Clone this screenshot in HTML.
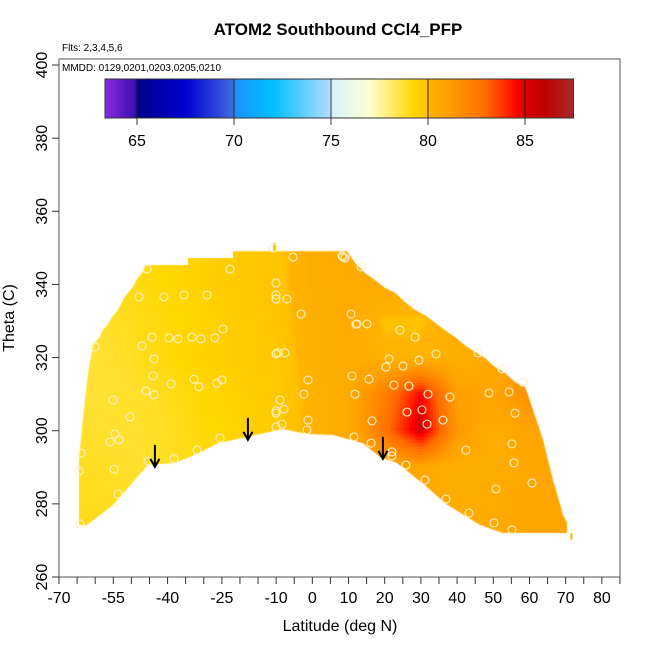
<!DOCTYPE html>
<html><head><meta charset="utf-8">
<style>
html,body{margin:0;padding:0;background:#fff;}
#wrap{position:relative;width:650px;height:650px;font-family:"Liberation Sans",sans-serif;}
canvas,svg{position:absolute;left:0;top:0;}
</style></head>
<body>
<div id="wrap">
<canvas id="cv" width="650" height="650"></canvas>
<svg id="sv" width="650" height="650"></svg>
</div>
<script>
// ---- data ----
const lats = [-70,-60,-50,-40,-30,-20,-10,0,10,20,30,40,50,60,70];
const thetas = [270,280,290,300,310,320,330,340,350];
const v270 = [79,79,78.9,79,79.2,79.4,79.7,80.1,80.4,80.5,80.5,80.4,80.5,80.7,80.7];
const v280 = [79,79,78.9,79,79.2,79.4,79.7,80.1,80.4,80.5,80.5,80.4,80.5,80.7,80.7];
const v290 = [79,78.9,78.8,78.9,79.2,79.4,79.7,80.1,80.3,80.5,80.7,80.3,80.3,80.6,80.7];
const v300 = [78.9,78.8,78.8,78.9,79.2,79.4,79.7,80.1,80.4,82.6,85.3,81.2,80.4,80.8,80.8];
const v310 = [78.8,78.7,78.8,79,79.3,79.5,79.7,80.1,80.4,82.2,84.6,81,80.8,81.6,80.9];
const v320 = [78.7,78.7,78.9,79.2,79.5,79.6,79.7,80.2,80.5,80.1,80.1,80.3,80.5,80.8,80.7];
const v330 = [78.8,78.8,79,79.2,79.4,79.6,79.8,80.2,80.5,79.9,79.9,80.3,80.5,80.7,80.7];
const v340 = [78.9,78.9,79.1,79.3,79.5,79.7,79.8,80.3,80.5,80.5,80.4,80.5,80.7,80.7,80.7];
const v350 = [79,79,79,79.3,79.5,79.6,79.8,80.3,80.5,80.6,80.6,80.6,80.7,80.7,80.7];
const gridRows = [v270,v280,v290,v300,v310,v320,v330,v340,v350];
// region boundary (lat, theta)
const bndLat = [-64.47,-64.47,-63.37,-61.99,-60.6,-58.95,-57.84,-56.46,-55.08,-53.7,-52.32,-50.94,-49.56,-48.45,-47.07,-45.96,-34.35,-34.35,-21.92,-21.92,-10.87,-10.87,-10.04,-10.04,9.58,11.79,14.55,17.32,20.08,22.84,25.61,28.37,31.13,33.9,36.66,39.42,42.18,44.95,47.71,50.47,53.24,56.0,58.76,59.59,60.97,62.36,63.74,65.12,66.5,67.88,69.26,70.37,70.37,52.68,46.33,42.74,36.66,31.69,26.99,23.4,18.7,14.0,5.71,-1.47,-8.1,-14.46,-26.07,-31.87,-37.95,-45.41,-55.08,-62.26];
const bndTh = [274.2,292.5,303.5,315.8,323.4,325.4,327.6,329.2,331.4,333.0,335.8,337.7,339.3,341.5,343.1,345.3,345.3,347.2,347.2,349.1,349.1,351.3,351.3,349.1,349.1,345.9,343.1,341.2,339.0,337.7,335.2,333.0,331.6,329.5,327.5,325.6,323.4,321.5,319.9,317.4,315.8,313.3,312.0,309.8,305.7,301.6,297.5,292.0,286.5,281.9,277.0,274.8,272.0,272.0,274.2,276.4,280.2,284.6,288.4,291.2,292.8,296.6,298.8,299.1,300.5,299.1,296.6,293.6,291.2,290.6,279.7,274.2];
// observation circles (lat, theta)
const obsLat = [-45.68,-22.75,-10.87,-5.34,8.47,-47.9,-40.99,-35.46,-29.11,-10.04,-10.04,-10.04,-7.0,-3.13,10.68,12.06,-24.69,-44.3,-39.6,-37.12,-33.25,-30.77,-26.9,-47.07,-60.05,-10.04,-9.49,-7.56,-43.75,-44.03,-39.05,-32.7,-31.32,-26.35,-24.96,-1.2,10.96,-45.96,-43.75,-2.31,11.79,-55.08,-8.94,-10.04,-10.04,-7.83,-50.38,-1.2,-8.38,-10.04,-1.47,-54.53,-55.91,-53.42,-25.52,11.51,-63.92,-31.87,-38.22,-45.41,-64.47,-54.8,-53.7,-64.2,8.19,9.02,13.44,12.34,15.1,24.22,28.37,21.18,29.47,34.17,20.35,25.05,45.77,52.4,15.65,22.56,26.71,31.96,38.04,48.81,54.34,58.2,26.16,30.3,56.0,16.48,31.69,36.1,16.21,22.0,22.0,42.46,55.17,55.72,25.88,31.13,60.69,50.74,36.93,43.29,50.19,55.17];
const obsTh = [344.2,344.2,350.0,347.5,347.5,336.6,336.6,337.1,337.1,340.4,337.1,336.0,336.0,331.9,331.9,329.1,327.8,325.6,325.4,325.1,325.6,325.1,325.4,323.2,322.9,321.0,321.3,321.3,319.6,315.0,312.8,314.1,312.0,313.0,313.9,313.9,315.0,310.9,309.8,310.0,310.0,308.4,308.4,305.4,304.8,305.9,303.8,302.9,301.8,301.0,300.2,299.1,296.9,297.5,298.0,298.3,293.9,294.7,292.3,291.7,289.0,289.5,282.7,274.5,347.8,347.2,344.8,329.2,329.2,327.5,325.6,319.6,319.3,321.0,317.4,317.7,321.3,316.9,314.1,312.5,312.2,310.0,309.2,310.3,310.6,313.3,305.1,305.7,304.8,302.7,301.8,302.9,296.6,294.2,293.1,294.7,296.4,291.2,290.6,286.5,285.7,284.1,281.3,277.5,274.8,272.9];
// arrows (lat, theta of tip)
const arrLat = [-43.5,-17.8,19.5];
const arrTh = [290.1,297.5,292.3];
// color scale
const csVal = [63.35,64.9,65,67.5,69.95,70,72,74.95,75,77,79.3,79.95,80,81,83,84.6,85,86,87.5];
const csCol = ["#8a2be2","#3a10b0","#00008b","#0000cd","#4169e1","#1e90ff","#00bfff","#b0dcff","#d4f2ff","#ffffd0","#ffd700","#ffc000","#ffb400","#ffa000","#ff6a00","#ff0000","#d80000","#c00000","#a52a2a"];
const cbTicks = [65,70,75,80,85];
const xTickVals = [-70,-65,-60,-55,-50,-45,-40,-35,-30,-25,-20,-15,-10,-5,0,5,10,15,20,25,30,35,40,45,50,55,60,65,70,75,80,85];
const xLabelVals = [-70,-55,-40,-25,-10,0,10,20,30,40,50,60,70,80];
const yTickVals = [260,280,300,320,340,360,380,400];

// ---- axes functions ----
const X = lat => 59 + (lat + 70) * 3.619;
const Y = th => 577 - (th - 260) * 3.657;
const CBX = v => 105 + (v - 63.35) * 19.4;

function hex(h){return [parseInt(h.substr(1,2),16),parseInt(h.substr(3,2),16),parseInt(h.substr(5,2),16)];}
function colorOf(v){
  if(v<=csVal[0]) return hex(csCol[0]);
  for(let i=1;i<csVal.length;i++){
    if(v<=csVal[i]){
      const t=(v-csVal[i-1])/(csVal[i]-csVal[i-1]);
      const a=hex(csCol[i-1]), b=hex(csCol[i]);
      return [0,1,2].map(k=>Math.round(a[k]+(b[k]-a[k])*t));
    }
  }
  return hex(csCol[csCol.length-1]);
}
function field(lat,th){
  let fi=(lat-lats[0])/10, fj=(th-thetas[0])/10;
  fi=Math.max(0,Math.min(lats.length-1.0001,fi));
  fj=Math.max(0,Math.min(thetas.length-1.0001,fj));
  const i=Math.floor(fi), j=Math.floor(fj), u=fi-i, w=fj-j;
  const a=gridRows[j][i], b=gridRows[j][i+1], c=gridRows[j+1][i], d=gridRows[j+1][i+1];
  return a*(1-u)*(1-w)+b*u*(1-w)+c*(1-u)*w+d*u*w;
}

// ---- canvas field ----
const cv=document.getElementById('cv'); const ctx=cv.getContext('2d');
ctx.save();
ctx.beginPath();
bndLat.forEach((la,k)=>{const px=X(la),py=Y(bndTh[k]); if(k===0)ctx.moveTo(px,py); else ctx.lineTo(px,py);});
ctx.closePath(); ctx.clip();
const cell=3;
for(let px=70;px<580;px+=cell){
  for(let py=230;py<545;py+=cell){
    const la=(px+cell/2-59)/3.619-70, th=260+(577-(py+cell/2))/3.657;
    const c=colorOf(field(la,th));
    ctx.fillStyle=`rgb(${c[0]},${c[1]},${c[2]})`;
    ctx.fillRect(px,py,cell,cell);
  }
}
ctx.restore();
ctx.fillStyle='#ffa500'; ctx.fillRect(X(71.3),Y(272.0),2,Y(270.2)-Y(272.0));

// ---- svg overlay ----
const NS='http://www.w3.org/2000/svg';
const sv=document.getElementById('sv');
function mk(tag,attrs,parent){const e=document.createElementNS(NS,tag);for(const k in attrs)e.setAttribute(k,attrs[k]);(parent||sv).appendChild(e);return e;}

const gObs=mk('g',{});


obsLat.forEach((la,k)=>{
  const c=mk('circle',{cx:X(la),cy:Y(obsTh[k]),r:4,fill:'none',stroke:'#fff2c8','stroke-width':1.1},gObs);
  
  
});
arrLat.forEach((la,k)=>{
  const g=mk('g',{});
  
  
  const x=X(la), y=Y(arrTh[k]);
  mk('line',{x1:x,y1:y-22,x2:x,y2:y-1,stroke:'#000','stroke-width':2},g);
  mk('polyline',{points:`${x-4.5},${y-8} ${x},${y} ${x+4.5},${y-8}`,fill:'none',stroke:'#000','stroke-width':2},g);
});

const fr=mk('rect',{x:59,y:59,width:561,height:518,fill:'none',stroke:'#555','stroke-width':1});



const gcb=mk('g',{});


const defs=mk('defs',{});
const lg=mk('linearGradient',{id:'cbg',x1:0,x2:1,y1:0,y2:0},defs);
csVal.forEach((v,k)=>{mk('stop',{offset:((v-csVal[0])/(87.5-csVal[0])).toFixed(4),'stop-color':csCol[k]},lg);});
mk('rect',{x:CBX(63.35),y:79,width:CBX(87.5)-CBX(63.35),height:39,fill:'url(#cbg)',stroke:'#333','stroke-width':1},gcb);
cbTicks.forEach(v=>{
  const x=CBX(v);
  mk('line',{x1:x,y1:79,x2:x,y2:125,stroke:'#222','stroke-width':1.2,'stroke-opacity':0.75},gcb);
  const t=mk('text',{x:x,y:146,'text-anchor':'middle','font-size':16,fill:'#000'},gcb);
  t.textContent=v;
  
  
});

const gx=mk('g',{});


xTickVals.forEach(v=>{mk('line',{x1:X(v),y1:577,x2:X(v),y2:584,stroke:'#333','stroke-width':1},gx);});
xLabelVals.forEach(v=>{
  const t=mk('text',{x:X(v),y:603,'text-anchor':'middle','font-size':16,fill:'#000'},gx);
  t.textContent=v;
  
  
});
const gy=mk('g',{});


yTickVals.forEach(v=>{
  const y=Y(v);
  mk('line',{x1:52,y1:y,x2:59,y2:y,stroke:'#333','stroke-width':1},gy);
  const t=mk('text',{x:47,y:y,'text-anchor':'middle','font-size':16,fill:'#000',transform:`rotate(-90 47 ${y})`},gy);
  t.textContent=v;
  
  
});
</script>
<svg width="650" height="650" style="position:absolute;left:0;top:0">
<text x="338" y="35" text-anchor="middle" font-size="17" font-weight="bold" font-family="Liberation Sans, sans-serif">ATOM2 Southbound CCl4_PFP</text>
<text x="62" y="51" font-size="10" font-family="Liberation Sans, sans-serif">Flts: 2,3,4,5,6</text>
<text x="62" y="71" font-size="10" font-family="Liberation Sans, sans-serif">MMDD: 0129,0201,0203,0205,0210</text>
<text x="340" y="631" text-anchor="middle" font-size="16" font-family="Liberation Sans, sans-serif">Latitude (deg N)</text>
<text x="14" y="318" text-anchor="middle" font-size="16" font-family="Liberation Sans, sans-serif" transform="rotate(-90 14 318)">Theta (C)</text>
</svg>
</body></html>
